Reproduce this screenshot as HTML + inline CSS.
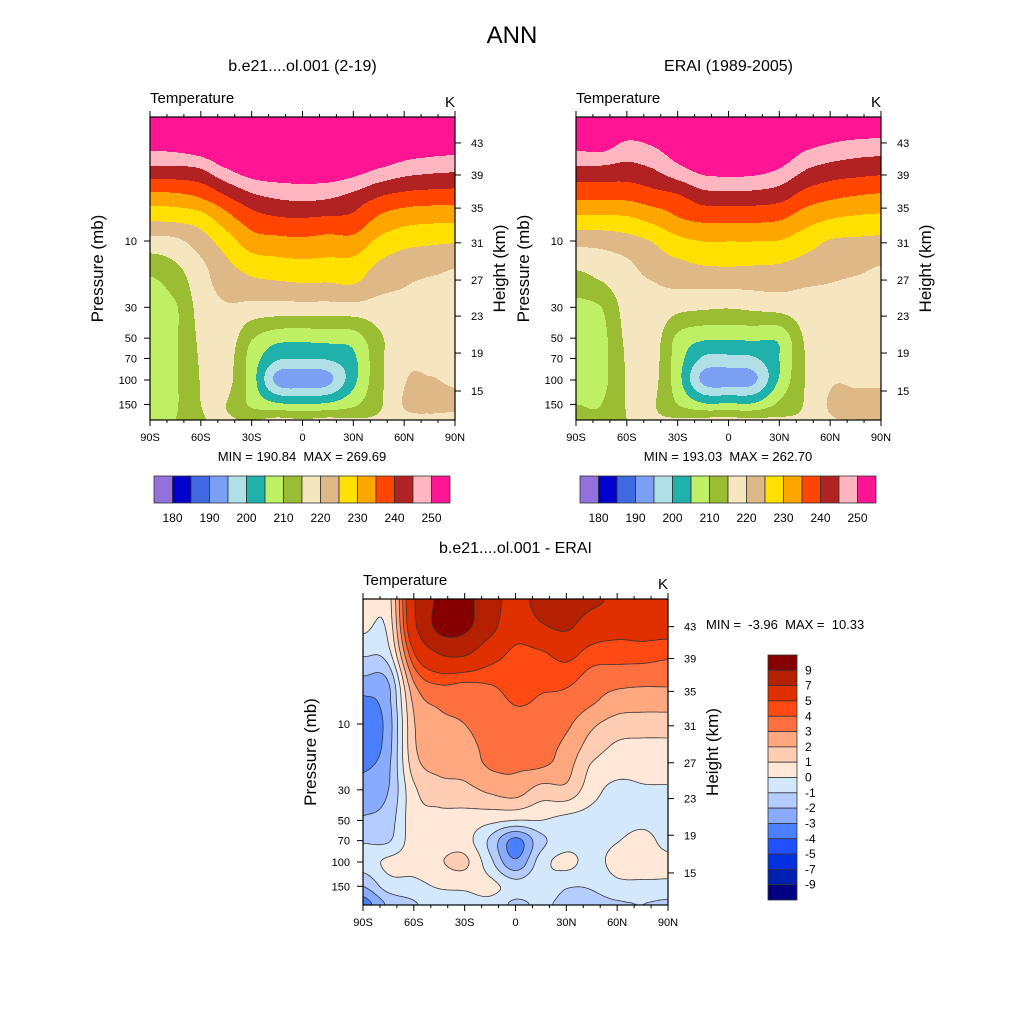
<!DOCTYPE html>
<html><head><meta charset="utf-8"><style>
html,body{margin:0;padding:0;background:#fff;}
svg{display:block;font-family:"Liberation Sans",Arial,sans-serif;}
</style></head><body>
<svg id="chart" xmlns="http://www.w3.org/2000/svg" width="1024" height="1024" viewBox="0 0 1024 1024">
<rect x="0" y="0" width="1024" height="1024" fill="#fff"/>
<text x="512" y="43" font-size="24" text-anchor="middle">ANN</text>
</svg>
<script>
// ---------- data ----------
const lats = [-90,-75,-60,-45,-30,-15,0,15,30,45,60,75,90];
const plevs = [1.3,2,3,5,7,10,15,20,30,50,70,100,150,200];
const modelT = [
 [262,252.5,244,232.7,225.6,218.2,212.3,209,208,207.5,207.5,207.5,208,209],
 [262,253,244,233,226,219,214.5,212,209.5,209.5,209.5,209.5,209.5,210],
 [263,255,245.1,234.7,227.5,222.6,219,218,217,216,215.5,215.2,215,214.5],
 [264,258,250,239,232.8,227.6,223.8,222,219.5,218,217,216.5,215,215.5],
 [263,257,253,243.2,237.5,232.7,227.2,223.7,218.4,210.5,208,207.5,209,215],
 [262,258,254,245,239.2,233.6,228.2,224.4,218,207,200.7,193.5,205.8,217],
 [262,258,254,245.7,239.5,234,228.7,225,218,206.6,200.3,192,205.5,216],
 [262,258,254,245,239,233.3,228.5,224.9,218,207,200.5,193.5,205.8,217],
 [263,257,252.5,243,238.6,233.4,228.3,225.3,218.2,207.6,204,203.5,209,216],
 [264,258,250,239.4,234,229,224.3,221.7,218.2,214,213.5,213.5,214,216],
 [264,255,247.6,237.8,231.8,226.6,222.3,220.3,219,218.5,219,219.7,220.3,218.5],
 [264,254,246.6,237.2,231.1,225.9,221.5,219.5,219,219,219.3,220.2,221.5,218.5],
 [264,253.5,246.1,237,231,225.5,220.4,219.5,219,219,219,219.5,220.8,218.5]
];
const eraiT = [
 [262,252.3,244.1,235.3,228.6,221.5,216,212.7,208.5,207.5,207.3,207.5,210,211],
 [262,253,244,235.3,228.7,221.7,217.4,214.7,210,208.5,208.5,208.5,210,211],
 [258,249,243.4,235.5,229,223.1,219,218,217,216,215.5,215.3,215.2,215],
 [258,250.6,245,237.3,231.3,225.2,222.4,219.8,218.5,217.5,217,216.5,215.5,215.5],
 [261,254,248.7,238.6,234.4,228.6,223.8,221,216.4,209,207.5,207,210,216],
 [262,256,251.8,242.1,235.9,230.1,225,221.1,215.7,206,199.3,193.8,205.7,217],
 [262,256,252.3,242.3,235.9,230.1,225.3,221.2,215.3,205.9,198.7,192.5,205.7,217],
 [262,256,252,242.3,235.9,230.1,225,221.4,216,206,199.5,194,205.7,217],
 [262,255.5,250,241.2,235.3,229.8,224.7,221.5,216.7,206.2,205,205.5,211,216],
 [260,252,245.5,237.5,232.1,227.3,223.3,220.5,218,215.5,215,215,215.3,216],
 [257,249.9,243.3,235.3,229.9,224.7,222,220,219,218.7,219,219.5,220.5,219.5],
 [257,248.6,242.4,234.2,229,224.2,221.1,219.5,219,219,219.2,219.6,220.8,219.9],
 [256,248.2,241.8,233.6,228.6,223.8,220,219.5,219,219,219.2,219.6,220.8,220]
];
const diffT = [
 [0.7,0.2,-0.8,-2.3,-3.3,-3.8,-3.7,-3.2,-2.5,-1.9,-1.1,-0.5,-2.0,-3.5],
 [0.6,0.3,-0.3,-2.0,-2.3,-2.5,-2.4,-2.2,-2.0,-1.5,-1.1,0.2,-0.5,-1.8],
 [6.8,6.5,5.0,3.0,2.2,1.9,1.8,1.5,0.8,0.6,0.5,0.4,-0.3,-1.1],
 [9.3,9.4,7.2,4.2,3.2,2.7,2.3,2.3,1.5,0.7,0.5,0.9,0.1,-0.5],
 [9.4,9.3,7.4,4.0,3.3,3.0,2.6,2.4,1.7,0.6,0.4,1.2,0.2,-0.4],
 [8.0,7.6,5.8,4.1,3.6,3.5,3.3,3.1,2.2,0.3,-1.2,-0.7,0.3,-0.3],
 [6.2,5.6,4.8,4.4,4.05,3.7,3.4,3.1,2.5,0.0,-3.3,-2.8,-0.5,-1.2],
 [7.8,6.7,4.9,4.2,3.9,3.7,3.4,3.1,1.6,0.0,-1.3,-0.5,-0.2,-0.8],
 [7.8,7.2,5.5,4.2,3.7,3.2,2.7,2.4,1.7,-0.3,-0.5,0.3,-0.9,-1.3],
 [7.3,6.0,4.6,3.5,3.1,2.2,1.5,0.9,0.4,-0.4,-0.5,-0.4,-0.9,-1.3],
 [6.7,5.5,4.5,3.3,2.5,1.6,0.8,0.5,-0.3,-0.4,-0.05,0.4,-0.3,-1.1],
 [6.5,5.6,4.5,3.2,2.4,1.5,0.7,0.4,-0.1,-0.2,0.3,0.4,-0.2,-1.0],
 [6.5,5.6,4.3,3.2,2.4,1.5,0.7,0.4,-0.1,-0.4,-0.3,0.2,-0.2,-1.2]
];
const tempLevels = [180,185,190,195,200,205,210,215,220,225,230,235,240,245,250];
const tempColors = ['#9370DB','#0000CD','#4169E1','#7B9FF2','#B0E0E6','#20B2AA','#BFEF64','#9ABD34','#F5E6C0','#DEB887','#FFE000','#FFA500','#FF4500','#B22222','#FFB6C1','#FF1493'];
const tempBarLabels = ['180','190','200','210','220','230','240','250'];
const diffLevels = [-9,-7,-5,-4,-3,-2,-1,0,1,2,3,4,5,7,9];
const diffColors = ['#000080','#0020B0','#0030E0','#2050FF','#4A80FF','#88AAFF','#B4CCFF','#D4E8FC','#FFE8D8','#FFCCB4','#FFA880','#FF7040','#FF4A14','#E03000','#B52000','#870000'];
const diffBarLabels = ['-9','-7','-5','-4','-3','-2','-1','0','1','2','3','4','5','7','9'];
const latTicks = [-90,-60,-30,0,30,60,90];
const latTickLabels = ['90S','60S','30S','0','30N','60N','90N'];
const presTicks = [10,30,50,70,100,150];
const heightTicks = [43,39,35,31,27,23,19,15];
const heightTickPres = [1.97,3.35,5.8,10.3,19.1,34.7,64,120];

// ---------- helpers ----------
const svg = document.getElementById('chart');
const NS = 'http://www.w3.org/2000/svg';
function el(tag, attrs, parent){
  const e = document.createElementNS(NS, tag);
  for (const k in attrs) e.setAttribute(k, attrs[k]);
  (parent||svg).appendChild(e);
  return e;
}
function txt(x,y,s,size,anchor,parent,extra){
  const t = el('text',Object.assign({x:x,y:y,'font-size':size,'text-anchor':anchor||'start'},extra||{}),parent);
  t.textContent = s;
  return t;
}
function cr(p0,p1,p2,p3,t){
  return 0.5*((2*p1)+(-p0+p2)*t+(2*p0-5*p1+4*p2-p3)*t*t+(-p0+3*p1-3*p2+p3)*t*t*t);
}
function rowIndex(p){
  const lp = Math.log10(p);
  if (p <= plevs[0]) return 0;
  for (let i=0;i<plevs.length-1;i++){
    if (p <= plevs[i+1]){
      const a=Math.log10(plevs[i]), b=Math.log10(plevs[i+1]);
      return i + (lp-a)/(b-a);
    }
  }
  return plevs.length-1;
}
function sample(data, lat, p){
  let fx = (lat+90)/15; fx = Math.max(0,Math.min(lats.length-1,fx));
  let fy = rowIndex(p);
  const ix = Math.min(Math.floor(fx), lats.length-2), iy = Math.min(Math.floor(fy), plevs.length-2);
  const tx = fx-ix, ty = fy-iy;
  const cx = k=>Math.max(0,Math.min(lats.length-1,k));
  const cy = k=>Math.max(0,Math.min(plevs.length-1,k));
  const col = [];
  for (let a=-1;a<=2;a++){
    const c = data[cx(ix+a)];
    col.push(cr(c[cy(iy-1)],c[cy(iy)],c[cy(iy+1)],c[cy(iy+2)],ty));
  }
  return cr(col[0],col[1],col[2],col[3],tx);
}
function levelIndex(v, levels){
  let i=0; while(i<levels.length && v>=levels[i]) i++; return i;
}

// ---------- panel ----------
function panel(cfg){
  const g = el('g',{});
  
  
  const {x0,y0,w,h,yTen,dec} = cfg;
  const xOf = lat => x0 + (lat+90)/180*w;
  const yOf = p => yTen + dec*Math.log10(p/10);
  const pOf = y => 10*Math.pow(10,(y-yTen)/dec);
  const latOf = x => -90 + (x-x0)/w*180;
  const fg = el('g',{'shape-rendering':'crispEdges'},g);
  
  
  for (let py=0; py<h; py++){
    const p = pOf(y0+py+0.5);
    let start=0, prev=-1;
    for (let px=0; px<=w; px++){
      let idx=-2;
      if (px<w) idx = levelIndex(sample(cfg.data, latOf(x0+px+0.5), p), cfg.levels);
      if (idx!==prev){
        if (prev>=0){
          const r = el('rect',{x:x0+start,y:y0+py,width:px-start,height:1,fill:cfg.colors[prev]},fg);
          
          
        }
        start=px; prev=idx;
      }
    }
  }
  if (cfg.lines){
    const s=2, nx=Math.floor(w/s)+1, ny=Math.floor(h/s)+1;
    const V=[];
    for (let j=0;j<ny;j++){ const row=[]; const p=pOf(y0+Math.min(j*s,h));
      for (let i=0;i<nx;i++) row.push(sample(cfg.data, latOf(x0+Math.min(i*s,w)), p)); V.push(row); }
    let d='';
    cfg.levels.forEach(L=>{
      for (let j=0;j<ny-1;j++) for (let i=0;i<nx-1;i++){
        const xa=x0+i*s, xb=x0+Math.min((i+1)*s,w), ya=y0+j*s, yb=y0+Math.min((j+1)*s,h);
        const a=V[j][i], b=V[j][i+1], c=V[j+1][i+1], e=V[j+1][i];
        const pts=[];
        if ((a-L)*(b-L)<0) pts.push([xa+(L-a)/(b-a)*(xb-xa), ya]);
        if ((b-L)*(c-L)<0) pts.push([xb, ya+(L-b)/(c-b)*(yb-ya)]);
        if ((e-L)*(c-L)<0) pts.push([xa+(L-e)/(c-e)*(xb-xa), yb]);
        if ((a-L)*(e-L)<0) pts.push([xa, ya+(L-a)/(e-a)*(yb-ya)]);
        for (let k=0;k+1<pts.length;k+=2) d+='M'+pts[k][0].toFixed(1)+' '+pts[k][1].toFixed(1)+'L'+pts[k+1][0].toFixed(1)+' '+pts[k+1][1].toFixed(1);
      }
    });
    const cl = el('path',{d:d,fill:'none',stroke:'#333','stroke-width':0.8},g);
    
    
  }
  const fr = el('rect',{x:x0,y:y0,width:w,height:h,fill:'none',stroke:'#000','stroke-width':1.2},g);
  
  
  const tk = el('g',{stroke:'#000','stroke-width':1},g);
  
  
  for (let lat=-90; lat<=90; lat+=10){
    const major = lat%30===0, L = major?6:3, x=xOf(lat);
    el('line',{x1:x,y1:y0+h,x2:x,y2:y0+h+L},tk);
    el('line',{x1:x,y1:y0,x2:x,y2:y0-L},tk);
  }
  latTicks.forEach((lat,i)=>{
    const t = txt(xOf(lat), y0+h+21, latTickLabels[i], 11, 'middle', g);
    
    
  });
  presTicks.forEach(p=>{
    const y=yOf(p);
    el('line',{x1:x0,y1:y,x2:x0-6,y2:y},tk);
    const t = txt(x0-13, y+4, String(p), 11, 'end', g);
    
    
  });
  heightTicks.forEach((hk,i)=>{
    const y=yOf(heightTickPres[i]);
    el('line',{x1:x0+w,y1:y,x2:x0+w+6,y2:y},tk);
    const t = txt(x0+w+16, y+4, String(hk), 11, 'start', g);
    
    
  });
  const t1 = txt(x0+w/2, y0-46, cfg.title, 16, 'middle', g);
  
  
  const t2 = txt(x0, y0-14, 'Temperature', 15, 'start', g);
  
  
  const t3 = txt(x0+w, y0-10, 'K', 15, 'end', g);
  
  
  const yc = y0+h/2;
  const t4 = txt(x0-47, yc, 'Pressure (mb)', 17, 'middle', g, {transform:'rotate(-90 '+(x0-47)+' '+yc+')'});
  
  
  const t5 = txt(x0+w+50, yc, 'Height (km)', 17, 'middle', g, {transform:'rotate(-90 '+(x0+w+50)+' '+yc+')'});
  
  
  return g;
}

function hbar(x0,y0,w,h,parent){
  const g = el('g',{},parent);
  
  
  const n = tempColors.length, bw = w/n;
  tempColors.forEach((c,i)=>{
    const r = el('rect',{x:x0+i*bw,y:y0,width:bw,height:h,fill:c,stroke:'#333','stroke-width':0.8},g);
    
    
  });
  tempBarLabels.forEach((s,i)=>{
    const t = txt(x0+(1+2*i)*bw, y0+h+19, s, 12, 'middle', g);
    
    
  });
}

const p1 = panel({name:'model-panel',x0:150,y0:117,w:305,h:303,yTen:241,dec:139,data:modelT,levels:tempLevels,colors:tempColors,title:'b.e21....ol.001 (2-19)'});
const p2 = panel({name:'erai-panel',x0:576,y0:117,w:305,h:303,yTen:241,dec:139,data:eraiT,levels:tempLevels,colors:tempColors,title:'ERAI (1989-2005)'});
const p3 = panel({name:'diff-panel',x0:363,y0:599,w:305,h:306,yTen:724,dec:138,data:diffT,levels:diffLevels,colors:diffColors,title:'b.e21....ol.001 - ERAI',lines:true});

let m;
m = txt(302,461,'MIN = 190.84\u00a0\u00a0MAX = 269.69',13,'middle',p1);


m = txt(728,461,'MIN = 193.03\u00a0\u00a0MAX = 262.70',13,'middle',p2);


m = txt(706,629,'MIN =\u00a0\u00a0-3.96\u00a0\u00a0MAX =\u00a0\u00a010.33',13,'start',p3);


hbar(154,476,296,27,p1);
hbar(580,476,296,27,p2);

(function(){
  const g = el('g',{},p3);
  
  
  const x0=768,y0=655,w=29,h=245,n=diffColors.length,bh=h/n;
  for (let i=0;i<n;i++){
    const r = el('rect',{x:x0,y:y0+i*bh,width:w,height:bh,fill:diffColors[n-1-i],stroke:'#333','stroke-width':0.8},g);
    
    
  }
  for (let i=0;i<diffBarLabels.length;i++){
    const t = txt(805, y0+(i+1)*bh+4, diffBarLabels[diffBarLabels.length-1-i], 12, 'start', g);
    
    
  }
})();
</script>
</body></html>
